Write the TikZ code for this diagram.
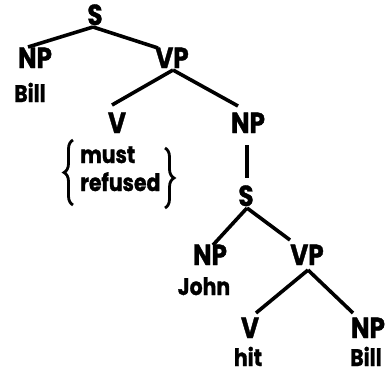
\documentclass[tikz,border=0pt]{standalone}
\usepackage{fontspec}
\setmainfont{Poppins}[FakeStretch=0.85,BoldFeatures={FakeBold=1.2}]
\usetikzlibrary{decorations.pathreplacing}
\begin{document}
\begin{tikzpicture}[x=1pt,y=1pt,
  cat/.style={anchor=base,inner sep=0pt,text depth=0pt,font=\fontsize{29}{29}\selectfont\bfseries},
  word/.style={anchor=base,inner sep=0pt,text depth=0pt,font=\fontsize{24}{24}\selectfont\bfseries},
  branch/.style={line width=3.6pt},
  bracestroke/.style={line width=2.8pt,decorate}]
\useasboundingbox (0,0) rectangle (388,-376);
% nodes (base points)
\node[cat] (S1) at (95,-25) {S};
\node[cat] (NP1) at (35,-68) {NP};
\node[word] (Bill1) at (30,-102) {Bill};
\node[cat] (VP1) at (172,-68) {VP};
\node[cat] (V1) at (117,-133) {V};
\node[cat] (NP2) at (248,-133) {NP};
\node[word,anchor=base west] (must) at (80,-163) {must};
\node[word,anchor=base west] (refused) at (80,-191) {refused};
\node[cat] (S2) at (246,-206) {S};
\node[cat] (NP3) at (210,-265) {NP};
\node[word] (John) at (204,-295) {John};
\node[cat] (VP2) at (307,-265) {VP};
\node[cat] (V2) at (250,-338) {V};
\node[cat] (NP4) at (368,-338) {NP};
\node[word] (hit) at (248,-366) {hit};
\node[word] (Bill2) at (366,-366) {Bill};
% branches
\draw[branch] ([shift={(-2,-2)}]S1.base) -- ([shift={(-7,21)}]NP1.base);
\draw[branch] ([shift={(-2,-2)}]S1.base) -- ([shift={(-14,20)}]VP1.base);
\draw[branch] ([shift={(1,-2)}]VP1.base) -- ([shift={(-5,28)}]V1.base);
\draw[branch] ([shift={(1,-2)}]VP1.base) -- ([shift={(-10,27)}]NP2.base);
\draw[branch] ([shift={(-1,-12)}]NP2.base) -- ([shift={(1,28)}]S2.base);
\draw[branch] ([shift={(1,-2)}]S2.base) -- ([shift={(3,20)}]NP3.base);
\draw[branch] ([shift={(1,-2)}]S2.base) -- ([shift={(-17,25)}]VP2.base);
\draw[branch] ([shift={(1,-5)}]VP2.base) -- ([shift={(6,25)}]V2.base);
\draw[branch] ([shift={(1,-5)}]VP2.base) -- ([shift={(-15,25)}]NP4.base);
% braces
\draw[bracestroke,decoration={brace,amplitude=9pt}] (73,-205) -- (73,-140);
\draw[bracestroke,decoration={brace,amplitude=9pt}] (165,-148) -- (165,-208);
\end{tikzpicture}
\end{document}
